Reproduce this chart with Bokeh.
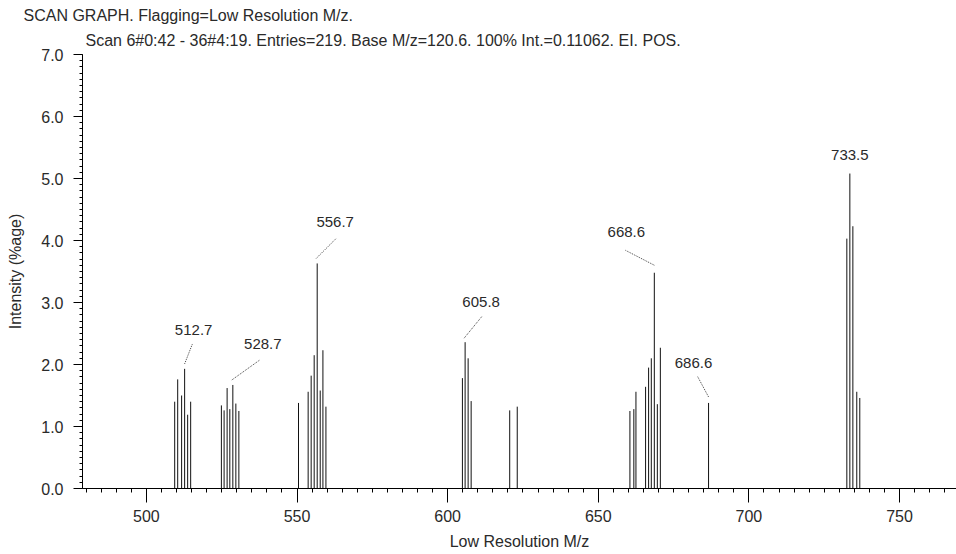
from bokeh.plotting import figure
from bokeh.models import Range1d, LinearAxis, FixedTicker, Title, PrintfTickFormatter
from bokeh.core.properties import value
from bokeh.embed import file_html
from bokeh.resources import INLINE

# ---------------- data ----------------
title_main = "SCAN GRAPH. Flagging=Low Resolution M/z."
title_sub = "Scan 6#0:42 - 36#4:19. Entries=219. Base M/z=120.6. 100% Int.=0.11062. EI. POS."
x_label = "Low Resolution M/z"
y_label = "Intensity (%age)"

mz = [509.4, 510.4, 511.7, 512.7, 513.7, 514.7,
      524.9, 525.8, 526.8, 527.7, 528.7, 529.7, 530.7,
      550.5, 553.7, 554.7, 555.7, 556.7, 557.7, 558.6, 559.6,
      604.9, 605.8, 606.8, 607.8,
      620.6, 623.1,
      660.5, 661.8, 662.5, 665.7, 666.7, 667.6, 668.6, 669.6, 670.6,
      686.6,
      732.5, 733.5, 734.5, 735.8, 736.8]
intensity = [1.40, 1.76, 1.50, 1.93, 1.19, 1.40,
             1.34, 1.26, 1.62, 1.28, 1.67, 1.37, 1.25,
             1.38, 1.56, 1.82, 2.15, 3.63, 1.58, 2.23, 1.32,
             1.78, 2.36, 2.10, 1.41,
             1.26, 1.32,
             1.25, 1.28, 1.56, 1.64, 1.95, 2.10, 3.48, 1.36, 2.27,
             1.38,
             4.03, 5.08, 4.23, 1.56, 1.46]

label_mz = [512.7, 528.7, 556.7, 605.8, 668.6, 686.6, 733.5]
label_text = ["512.7", "528.7", "556.7", "605.8", "668.6", "686.6", "733.5"]

x_major = [500, 550, 600, 650, 700, 750]
y_major = [0, 1, 2, 3, 4, 5, 6, 7]

# ---------------- style / layout ----------------
X_START, X_END = 478.8, 768.9
Y_START, Y_END = 0.0, 7.0
W, H = 956, 554
BL, BT, BR, BB = 82, 54, 0, 66
FRAME_W = W - BL - BR
FRAME_H = H - BT - BB
px_x = FRAME_W / (X_END - X_START)
px_y = FRAME_H / (Y_END - Y_START)

# label/leader pixel offsets (dx right, dy up) relative to the peak top
lab_off = [(9, 39), (30, 41), (18, 41), (16, 40), (-28, 41), (-15, 40), (0, 19)]
lead_start = [(0, 5), (-1, 5), (-1, 5), (-1, 4), (0, 7.5), (0, 6), None]
lead_end = [(8, 25.5), (27, 25), (19, 25), (17, 26), (-29, 22.5), (-11, 26.5), None]

FONT = "Liberation Sans"
TXT = "#2a2a2a"

p = figure(width=W, height=H, x_range=Range1d(X_START, X_END), y_range=Range1d(Y_START, Y_END),
           output_backend="svg", toolbar_location=None, x_axis_type=None, y_axis_type=None,
           min_border_left=BL, min_border_right=BR, min_border_top=BT, min_border_bottom=BB,
           title=None)
p.outline_line_color = None
p.background_fill_color = "white"
p.border_fill_color = "white"

# bars
p.segment(x0=mz, y0=[0] * len(mz), x1=mz, y1=intensity, line_color="#111111", line_width=1)

# labels and leaders
peak_val = [intensity[mz.index(m)] for m in label_mz]
lx = [m + o[0] / px_x for m, o in zip(label_mz, lab_off)]
ly = [v + o[1] / px_y for v, o in zip(peak_val, lab_off)]
p.text(x=lx, y=ly, text=label_text, text_align="center", text_baseline="middle",
       text_font=value(FONT), text_font_size="15px", text_color=TXT)

x0, y0, x1, y1 = [], [], [], []
for m, v, s, e in zip(label_mz, peak_val, lead_start, lead_end):
    if s is None:
        continue
    x0.append(m + s[0] / px_x); y0.append(v + s[1] / px_y)
    x1.append(m + e[0] / px_x); y1.append(v + e[1] / px_y)
p.segment(x0=x0, y0=y0, x1=x1, y1=y1, line_color="#444444", line_width=1, line_dash="1 1")

# axes
def style_axis(ax):
    ax.axis_line_color = "black"
    ax.major_tick_line_color = "black"
    ax.minor_tick_line_color = "black"
    ax.major_tick_in = 0
    ax.minor_tick_in = 0
    ax.major_label_text_font = FONT
    ax.major_label_text_font_size = "16px"
    ax.major_label_text_color = TXT
    ax.axis_label_text_font = FONT
    ax.axis_label_text_font_size = "16px"
    ax.axis_label_text_font_style = "normal"
    ax.axis_label_text_color = TXT

x_minor = [480 + 5 * i for i in range(60) if 480 + 5 * i <= X_END]
xaxis = LinearAxis(ticker=FixedTicker(ticks=x_major, minor_ticks=x_minor), axis_label=x_label)
style_axis(xaxis)
xaxis.major_tick_out = 14
xaxis.minor_tick_out = 4
xaxis.major_label_standoff = 7
xaxis.axis_label_standoff = 8
p.add_layout(xaxis, "below")

x_mid = [480 + 10 * i for i in range(30) if 480 + 10 * i <= X_END]
xmid = LinearAxis(fixed_location=Y_START, ticker=FixedTicker(ticks=x_mid, minor_ticks=[]))
style_axis(xmid)
xmid.axis_line_color = None
xmid.major_tick_out = 7
xmid.minor_tick_out = 0
xmid.major_label_text_color = None
p.add_layout(xmid, "below")

y_minor = [round(0.1 * i, 1) for i in range(71)]
yaxis = LinearAxis(ticker=FixedTicker(ticks=y_major, minor_ticks=y_minor), axis_label=y_label,
                   formatter=PrintfTickFormatter(format="%.1f"))
style_axis(yaxis)
yaxis.major_tick_out = 9
yaxis.minor_tick_out = 3
yaxis.major_label_standoff = 10
yaxis.axis_label_standoff = 14
p.add_layout(yaxis, "left")

y_mid = [0.5 * i for i in range(15)]
ymid = LinearAxis(fixed_location=X_START, ticker=FixedTicker(ticks=y_mid, minor_ticks=[]))
style_axis(ymid)
ymid.axis_line_color = None
ymid.major_tick_out = 5
ymid.minor_tick_out = 0
ymid.major_label_text_color = None
p.add_layout(ymid, "left")

# titles
p.add_layout(Title(text=title_sub, align="left", offset=3, standoff=12, text_font=FONT,
                   text_font_size="16px", text_font_style="normal", text_color=TXT), "above")
p.add_layout(Title(text=title_main, align="left", offset=-59, standoff=0, text_font=FONT,
                   text_font_size="16px", text_font_style="normal", text_color=TXT), "above")

open("out.html", "w").write(file_html(p, INLINE))
